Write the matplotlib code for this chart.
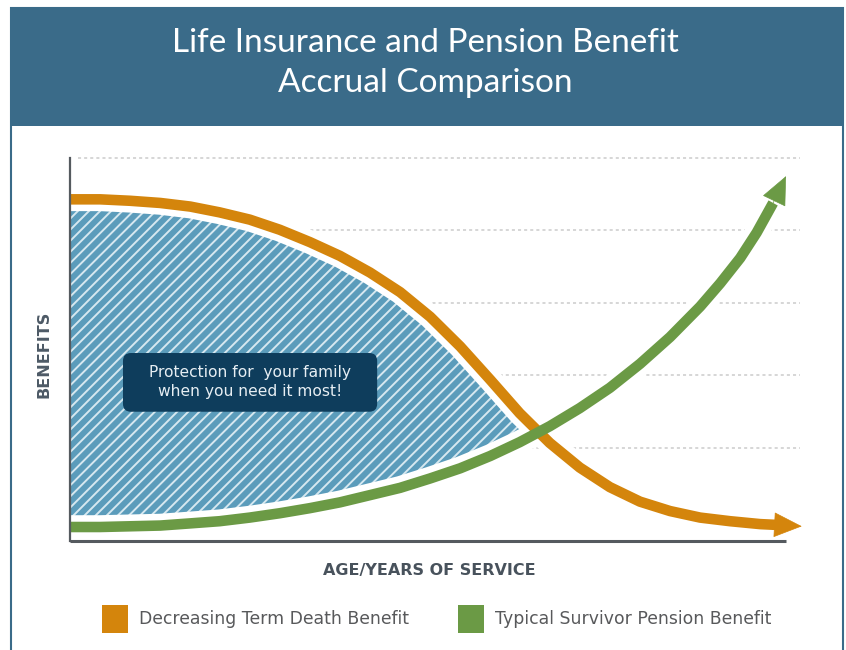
import numpy as np
import matplotlib.pyplot as plt
from matplotlib.patches import Rectangle, FancyBboxPatch

title_lines = ["Life Insurance and Pension Benefit", "Accrual Comparison"]
series_names = ["Decreasing Term Death Benefit", "Typical Survivor Pension Benefit"]
series_colors = ["#d4850c", "#6b9a45"]
x_label = "AGE/YEARS OF SERVICE"
y_label = "BENEFITS"
callout = "Protection for  your family\nwhen you need it most!"

# decreasing term death benefit (orange)
term_x = [0.00, 0.42, 0.84, 1.26, 1.68, 2.09, 2.51, 2.93, 3.35, 3.77, 4.19, 4.61, 5.03,
          5.45, 5.87, 6.28, 6.70, 7.12, 7.54, 7.96, 8.38, 8.80, 9.22, 9.64, 9.85]
term_y = [4.43, 4.43, 4.41, 4.38, 4.33, 4.25, 4.15, 4.01, 3.84, 3.65, 3.42, 3.15, 2.81,
          2.40, 1.94, 1.48, 1.07, 0.73, 0.46, 0.26, 0.13, 0.04, -0.01, -0.05, -0.06]
term_tip = (10.22, -0.08)

# typical survivor pension benefit (green)
pension_x = [0.00, 0.42, 0.84, 1.26, 1.68, 2.09, 2.51, 2.93, 3.35, 3.77, 4.19, 4.61, 5.03,
             5.45, 5.87, 6.28, 6.70, 7.12, 7.54, 7.96, 8.38, 8.80, 9.08, 9.36, 9.59, 9.82]
pension_y = [-0.09, -0.09, -0.08, -0.07, -0.04, -0.01, 0.04, 0.10, 0.17, 0.25, 0.35, 0.45,
             0.58, 0.72, 0.89, 1.08, 1.30, 1.55, 1.83, 2.16, 2.53, 2.95, 3.27, 3.62, 3.97, 4.38]
pension_tip = (10.00, 4.75)

# where the two curves cross
cross_pt = (6.55, 1.22)
grid_levels = [1, 2, 3, 4, 5]

header_color = "#3a6b89"
W, H = 846, 650

fig = plt.figure(figsize=(W / 100, H / 100), dpi=100)
plt.rcParams['hatch.linewidth'] = 1.4

# frame and header band
fig.add_artist(Rectangle((11 / W, -0.05), 832 / W, 1.05 - 8 / H, transform=fig.transFigure,
                         fill=False, edgecolor=header_color, linewidth=1.5))
fig.add_artist(Rectangle((10 / W, 1 - 126 / H), 834 / W, 118 / H, transform=fig.transFigure,
                         facecolor=header_color, edgecolor='none'))
for i, line in enumerate(title_lines):
    fig.text(425 / W, 1 - (43 + 40 * i) / H, line, ha='center', va='center',
             color='white', fontsize=24, family='Lato')

ax = fig.add_axes([70 / W, 109 / H, 740 / W, 383 / H])
ax.set_xlim(0, 10.335)
ax.set_ylim(-0.283, 5.0)
ax.set_xticks([])
ax.set_yticks([])
for s in ['top', 'right', 'bottom']:
    ax.spines[s].set_visible(False)
ax.spines['left'].set_color('#555a5f')
ax.spines['left'].set_linewidth(1.6)
ax.spines['left'].set_zorder(10)

ax.hlines(grid_levels, 0.11, 10.2, colors='#cccccc', linestyles=(0, (2, 2)),
          linewidth=1.1, zorder=1, clip_on=False)
ax.plot([0, 10], [-0.283, -0.283], color='#555a5f', linewidth=2.2, zorder=10,
        clip_on=False, solid_capstyle='butt')

# hatched protection area between the two curves, up to where they cross
tx, ty = np.array(term_x), np.array(term_y)
px, py = np.array(pension_x), np.array(pension_y)
poly_x = np.concatenate([tx[tx < cross_pt[0]], [cross_pt[0]], px[px < cross_pt[0]][::-1]])
poly_y = np.concatenate([ty[tx < cross_pt[0]], [cross_pt[1]], py[px < cross_pt[0]][::-1]])
ax.fill(poly_x, poly_y, facecolor='#5b9cbb', edgecolor='#d6e8f0', hatch='///',
        linewidth=0, zorder=2)

# white halo, then colored lines
for xs, ys in [(term_x, term_y), (pension_x, pension_y)]:
    ax.plot(xs, ys, color='white', linewidth=17, solid_capstyle='butt',
            solid_joinstyle='round', zorder=3)
for k, (xs, ys, tip) in enumerate([(term_x, term_y, term_tip),
                                   (pension_x, pension_y, pension_tip)]):
    c = series_colors[k]
    ax.plot(xs, ys, color=c, linewidth=7.6, solid_capstyle='butt',
            solid_joinstyle='round', zorder=4 + k)
    ax.annotate('', xy=tip, xytext=(xs[-1], ys[-1]),
                arrowprops=dict(arrowstyle='-|>,head_length=1.9,head_width=0.85',
                                mutation_scale=10, color=c, lw=0.5,
                                shrinkA=0, shrinkB=0), zorder=4 + k)

# callout box
ax.add_patch(FancyBboxPatch((0.74, 1.50), 3.55, 0.81,
                            boxstyle='round,pad=0,rounding_size=0.11',
                            facecolor='#0e3d5c', edgecolor='none', zorder=6))
ax.text(2.51, 1.91, callout, ha='center', va='center', color='#e6eef3',
        fontsize=11.2, linespacing=1.3, zorder=7)

fig.text(429 / W, 1 - 571 / H, x_label, ha='center', va='center', fontsize=11.5,
         color='#48525c', fontweight='bold')
fig.text(44 / W, 1 - 354 / H, y_label, ha='center', va='center', rotation=90,
         fontsize=11.5, color='#4d5a66', fontweight='bold')

# legend
legend_x = [102, 458]
for k, name in enumerate(series_names):
    fig.add_artist(Rectangle((legend_x[k] / W, 1 - 633 / H), 26 / W, 28 / H,
                             transform=fig.transFigure, facecolor=series_colors[k],
                             edgecolor='none'))
    fig.text((legend_x[k] + 37) / W, 1 - 619 / H, name, ha='left', va='center',
             fontsize=12.4, color='#58595b')

fig.savefig('out.png', dpi=100)
